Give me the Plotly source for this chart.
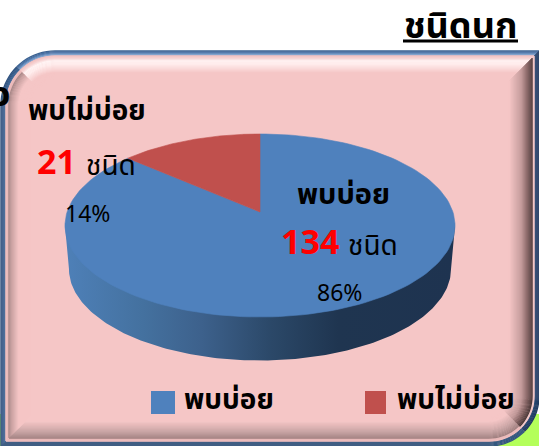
import math
import plotly.graph_objects as go

# ---- data ----
categories = ["พบบ่อย", "พบไม่บ่อย"]
species_counts = [134, 21]
percent_labels = ["86%", "14%"]
unit_label = "ชนิด"
title_text = "ชนิดนก"
slice_colors = ["#4F81BD", "#C0504D"]

W, H = 539, 446
PINK = "#F5C6C6"
FONT = "Noto Sans, Noto Sans Thai, Loma, sans-serif"

fig = go.Figure()
shapes = []

# ---- page background ----
shapes.append(dict(type="rect", x0=0, x1=W, y0=414, y1=H, fillcolor="#B4FF5A", line_width=0, layer="below"))


# ---- bevelled frame ----
def rr_sides(i):
    L, T, R, B = 1 + i, 51 + i, 539 - i, 446 - i
    r1 = max(54 - i, 1)
    r2 = max(50 - i, 1)
    def arc(cx, cy, r, a0, a1, n=10):
        return [(cx + r * math.cos(math.radians(a0 + (a1 - a0) * k / n)),
                 cy + r * math.sin(math.radians(a0 + (a1 - a0) * k / n))) for k in range(n + 1)]
    top = arc(L + r1, T + r1, r1, 225, 270) + [(R, T)]
    right = [(R, T)] + arc(R - r2, B - r2, r2, 0, 45)
    bottom = arc(R - r2, B - r2, r2, 45, 90) + [(L, B)]
    left = [(L, B)] + arc(L + r1, T + r1, r1, 180, 225)
    return top, right, bottom, left


def to_path(pts, close=False):
    s = "M" + " L".join(f"{x:.2f},{y:.2f}" for x, y in pts)
    return s + (" Z" if close else "")


def hexrgb(h):
    return tuple(int(h[k:k + 2], 16) for k in (1, 3, 5))


def ramp(stops, i):
    if i >= stops[-1][0]:
        return stops[-1][1]
    for (a, ca), (b, cb) in zip(stops, stops[1:]):
        if a <= i <= b:
            t = (i - a) / (b - a) if b > a else 0
            c0, c1 = hexrgb(ca), hexrgb(cb)
            return "rgb(%d,%d,%d)" % tuple(round(p + (q - p) * t) for p, q in zip(c0, c1))
    return stops[-1][1]


TOP = [(0, "#3D6392"), (2, "#4E78AC"), (4, "#7FA4D0"), (5, "#F2C0C0"), (8, "#F8D8D8"), (10, "#FFF4F4"), (14, "#FFEDED"), (22, PINK)]
LEFT = [(0, "#2F527F"), (4, "#3F6897"), (5, "#F0BEBE"), (7, "#E8B8B8"), (8, "#A88888"), (11, "#C8A0A0"), (18, PINK)]
RIGHT = [(0, "#1F3A60"), (4, "#24456F"), (5, "#F2C8C8"), (6, "#F0C8C8"), (7, "#4A3838"), (12, "#806060"), (18, "#C09898"), (30, PINK)]
BOTTOM = [(0, "#34587F"), (4, "#34587F"), (5, "#F0BEBE"), (7, "#E8B8B8"), (8, "#A08080"), (15, "#C8A4A4"), (25, PINK)]

t0, r0, b0, l0 = rr_sides(0)
shapes.append(dict(type="path", path=to_path(t0 + r0[1:] + b0[1:] + l0[1:], True), fillcolor=PINK, line_width=0, layer="below"))
for i in range(0, 31):
    for pts, stops in zip(rr_sides(i), (TOP, RIGHT, BOTTOM, LEFT)):
        shapes.append(dict(type="path", path=to_path(pts), line=dict(color=ramp(stops, i), width=1.4),
                           fillcolor="rgba(0,0,0,0)", layer="below"))

# ---- perspective pie (values -> angles -> projected outline) ----
CX, APEX_Y = 260.0, 212.0
A, B_, K = 192.9, 89.5, 0.1475
total = sum(species_counts)


def proj(theta, sx=1.0, dy=0.0):
    u, v = math.sin(theta), math.cos(theta)
    d = 1 + K * v
    return CX + sx * A * u / d, APEX_Y - B_ * v / d + dy


def sweep(a0, a1, n=160, **kw):
    return [proj(a0 + (a1 - a0) * k / n, **kw) for k in range(n + 1)]


# side wall
bottom_edge = sweep(math.acos(-K), 2 * math.pi - math.acos(-K), sx=191 / 195, dy=43.5)
wall = bottom_edge + [proj(2 * math.pi - math.acos(-K)), proj(math.acos(-K))]
fig.add_trace(go.Scatter(
    x=[p[0] for p in wall], y=[p[1] for p in wall], mode="lines", line_width=0, fill="toself", showlegend=False,
    hoverinfo="skip",
    fillgradient=dict(type="horizontal", colorscale=[
        [0, "#4E80B8"], [0.2, "#44719F"], [0.35, "#3D618C"], [0.53, "#2B4868"], [0.7, "#1F3550"], [1, "#1E3350"]]),
))

# top surface slices
ang = 0.0
for name, val, col in zip(categories, species_counts, slice_colors):
    a1 = ang + 2 * math.pi * val / total
    pts = [(CX, APEX_Y)] + sweep(ang, a1) + [(CX, APEX_Y)]
    fig.add_trace(go.Scatter(x=[p[0] for p in pts], y=[p[1] for p in pts], mode="lines",
                             line=dict(color=col, width=0.6),
                             fill="toself", fillcolor=col, name=name, showlegend=False, hoverinfo="name"))
    ang = a1

# ---- legend swatches ----
shapes.append(dict(type="rect", x0=151, x1=175, y0=391, y1=414, fillcolor=slice_colors[0], line_width=0))
shapes.append(dict(type="rect", x0=365, x1=386, y0=391, y1=414, fillcolor=slice_colors[1], line_width=0))
# title underline
shapes.append(dict(type="rect", x0=403, x1=518, y0=39.5, y1=42.5, fillcolor="black", line_width=0))


def label(text, x, y, size, color="black", bold=False, anchor="left"):
    fig.add_annotation(x=x, y=y, xref="x", yref="y", text=f"<b>{text}</b>" if bold else text, showarrow=False,
                       xanchor=anchor, yanchor="middle", font=dict(family=FONT, size=size, color=color),
                       borderpad=0, borderwidth=0, align="left")


label(title_text, 404, 24.5, 36, bold=True)
label("ว", 10, 93, 34, bold=True, anchor="right")
label(categories[1], 28, 109, 28, bold=True)
label(str(species_counts[1]), 37, 161, 34, color="#FF0000", bold=True)
label(unit_label, 86, 164, 28)
label(percent_labels[1], 65, 213, 23)
label(categories[0], 297, 192, 29, bold=True)
label(str(species_counts[0]), 281, 241, 34, color="#FF0000", bold=True)
label(unit_label, 348, 244, 28)
label(percent_labels[0], 317, 292, 23)
label(categories[0], 184, 398, 28, bold=True)
label(categories[1], 397, 398, 28, bold=True)

fig.update_layout(
    width=W, height=H, margin=dict(l=0, r=0, t=0, b=0), paper_bgcolor="white", plot_bgcolor="rgba(0,0,0,0)",
    xaxis=dict(range=[0, W], visible=False, fixedrange=True),
    yaxis=dict(range=[H, 0], visible=False, fixedrange=True),
    shapes=shapes, showlegend=False,
)
fig.write_html("out.html", config={"displayModeBar": False},
               post_script="document.body.style.margin='0';document.body.style.overflow='hidden';")
